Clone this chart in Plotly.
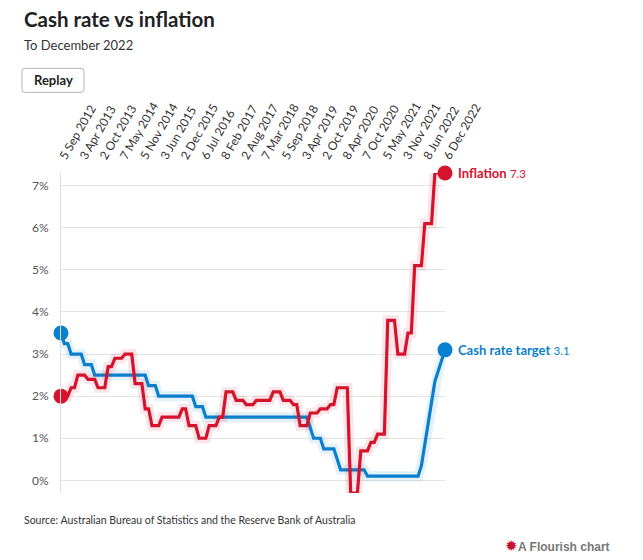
import plotly.graph_objects as go

# ---------------- data ----------------
meeting_dates = [
    "5 Sep 2012", "3 Oct 2012", "7 Nov 2012", "5 Dec 2012",
    "6 Feb 2013", "6 Mar 2013", "3 Apr 2013", "8 May 2013", "5 Jun 2013", "3 Jul 2013", "7 Aug 2013", "4 Sep 2013", "2 Oct 2013", "6 Nov 2013", "4 Dec 2013",
    "5 Feb 2014", "5 Mar 2014", "2 Apr 2014", "7 May 2014", "4 Jun 2014", "2 Jul 2014", "6 Aug 2014", "3 Sep 2014", "8 Oct 2014", "5 Nov 2014", "3 Dec 2014",
    "4 Feb 2015", "4 Mar 2015", "8 Apr 2015", "6 May 2015", "3 Jun 2015", "8 Jul 2015", "5 Aug 2015", "2 Sep 2015", "7 Oct 2015", "4 Nov 2015", "2 Dec 2015",
    "3 Feb 2016", "2 Mar 2016", "6 Apr 2016", "4 May 2016", "8 Jun 2016", "6 Jul 2016", "3 Aug 2016", "7 Sep 2016", "5 Oct 2016", "2 Nov 2016", "7 Dec 2016",
    "8 Feb 2017", "8 Mar 2017", "5 Apr 2017", "3 May 2017", "7 Jun 2017", "5 Jul 2017", "2 Aug 2017", "6 Sep 2017", "4 Oct 2017", "8 Nov 2017", "6 Dec 2017",
    "7 Feb 2018", "7 Mar 2018", "4 Apr 2018", "2 May 2018", "6 Jun 2018", "4 Jul 2018", "8 Aug 2018", "5 Sep 2018", "3 Oct 2018", "7 Nov 2018", "5 Dec 2018",
    "6 Feb 2019", "6 Mar 2019", "3 Apr 2019", "8 May 2019", "5 Jun 2019", "3 Jul 2019", "7 Aug 2019", "4 Sep 2019", "2 Oct 2019", "6 Nov 2019", "4 Dec 2019",
    "5 Feb 2020", "4 Mar 2020", "20 Mar 2020", "8 Apr 2020", "6 May 2020", "3 Jun 2020", "8 Jul 2020", "5 Aug 2020", "2 Sep 2020", "7 Oct 2020", "4 Nov 2020", "2 Dec 2020",
    "3 Feb 2021", "3 Mar 2021", "7 Apr 2021", "5 May 2021", "2 Jun 2021", "7 Jul 2021", "4 Aug 2021", "8 Sep 2021", "6 Oct 2021", "3 Nov 2021", "8 Dec 2021",
    "2 Feb 2022", "2 Mar 2022", "6 Apr 2022", "4 May 2022", "8 Jun 2022", "6 Jul 2022", "3 Aug 2022", "7 Sep 2022", "5 Oct 2022", "2 Nov 2022", "6 Dec 2022",
]

cash_rate = [
    3.50, 3.25, 3.25, 3.00,
    3.00, 3.00, 3.00, 2.75, 2.75, 2.75, 2.50, 2.50, 2.50, 2.50, 2.50,
    2.50, 2.50, 2.50, 2.50, 2.50, 2.50, 2.50, 2.50, 2.50, 2.50, 2.50,
    2.25, 2.25, 2.25, 2.00, 2.00, 2.00, 2.00, 2.00, 2.00, 2.00, 2.00,
    2.00, 2.00, 2.00, 1.75, 1.75, 1.75, 1.50, 1.50, 1.50, 1.50, 1.50,
    1.50, 1.50, 1.50, 1.50, 1.50, 1.50, 1.50, 1.50, 1.50, 1.50, 1.50,
    1.50, 1.50, 1.50, 1.50, 1.50, 1.50, 1.50, 1.50, 1.50, 1.50, 1.50,
    1.50, 1.50, 1.50, 1.50, 1.25, 1.00, 1.00, 1.00, 0.75, 0.75, 0.75,
    0.75, 0.50, 0.25, 0.25, 0.25, 0.25, 0.25, 0.25, 0.25, 0.25, 0.10, 0.10,
    0.10, 0.10, 0.10, 0.10, 0.10, 0.10, 0.10, 0.10, 0.10, 0.10, 0.10,
    0.10, 0.10, 0.10, 0.35, 0.85, 1.35, 1.85, 2.35, 2.60, 2.85, 3.10,
]

inflation = [
    2.0, 2.0, 2.0, 2.2,
    2.2, 2.5, 2.5, 2.5, 2.4, 2.4, 2.4, 2.2, 2.2, 2.2, 2.7,
    2.7, 2.9, 2.9, 2.9, 3.0, 3.0, 3.0, 2.3, 2.3, 2.3, 1.7,
    1.7, 1.3, 1.3, 1.3, 1.5, 1.5, 1.5, 1.5, 1.5, 1.5, 1.7,
    1.7, 1.3, 1.3, 1.3, 1.0, 1.0, 1.0, 1.3, 1.3, 1.3, 1.5,
    1.5, 2.1, 2.1, 2.1, 1.9, 1.9, 1.9, 1.8, 1.8, 1.8, 1.9,
    1.9, 1.9, 1.9, 1.9, 2.1, 2.1, 2.1, 1.9, 1.9, 1.9, 1.8,
    1.8, 1.3, 1.3, 1.3, 1.6, 1.6, 1.6, 1.7, 1.7, 1.7, 1.8,
    1.8, 2.2, 2.2, 2.2, 2.2, -0.3, -0.3, -0.3, 0.7, 0.7, 0.7, 0.9,
    0.9, 1.1, 1.1, 1.1, 3.8, 3.8, 3.8, 3.0, 3.0, 3.0, 3.5,
    3.5, 5.1, 5.1, 5.1, 6.1, 6.1, 6.1, 7.3, 7.3, 7.3, 7.3,
]

tick_labels = [
    "5 Sep 2012", "3 Apr 2013", "2 Oct 2013", "7 May 2014", "5 Nov 2014",
    "3 Jun 2015", "2 Dec 2015", "6 Jul 2016", "8 Feb 2017", "2 Aug 2017",
    "7 Mar 2018", "5 Sep 2018", "3 Apr 2019", "2 Oct 2019", "8 Apr 2020",
    "7 Oct 2020", "5 May 2021", "3 Nov 2021", "8 Jun 2022", "6 Dec 2022",
]
y_ticks = [0, 1, 2, 3, 4, 5, 6, 7]

series_names = ["Inflation", "Cash rate target"]

# ---------------- styling ----------------
FONT = "Lato"
RED = "#d6132c"
BLUE = "#0a7fcd"
RED_HALO = "rgba(214,19,44,0.11)"
BLUE_HALO = "rgba(10,127,205,0.11)"

OFF = 8  # page body margin offset
W, H = 643, 560
L, R, T, B = 61 - OFF, 445 - OFF, 173.4 - OFF, 492.6 - OFF


def px_x(px):
    return (px - OFF - L) / (R - L)


def px_y(py):
    return (B - (py - OFF)) / (B - T)


fig = go.Figure()

for vals, col, halo in [(cash_rate, BLUE, BLUE_HALO), (inflation, RED, RED_HALO)]:
    fig.add_trace(go.Scatter(
        x=meeting_dates, y=vals, mode="lines",
        line=dict(color=halo, width=10), hoverinfo="skip",
        showlegend=False, cliponaxis=False,
    ))
    fig.add_trace(go.Scatter(
        x=meeting_dates, y=vals, mode="lines",
        line=dict(color=col, width=3.2), showlegend=False, cliponaxis=False,
    ))
    fig.add_trace(go.Scatter(
        x=[meeting_dates[0], meeting_dates[-1]], y=[vals[0], vals[-1]],
        mode="markers", marker=dict(color=col, size=15, line=dict(width=0)),
        showlegend=False, cliponaxis=False, hoverinfo="skip",
    ))

annotations = []
for name, vals, col in [(series_names[0], inflation, RED), (series_names[1], cash_rate, BLUE)]:
    annotations.append(dict(
        x=meeting_dates[-1], y=vals[-1], xref="x", yref="y",
        text=f"<b>{name}</b> <span style='font-size:11.5px'>{vals[-1]:.1f}</span>",
        showarrow=False, xanchor="left", yanchor="middle", xshift=11, yshift=0,
        font=dict(family=FONT, size=13, color=col),
    ))

annotations += [
    dict(x=px_x(22), y=px_y(20), xref="paper", yref="paper",
         text="<b>Cash rate vs inflation</b>", showarrow=False,
         xanchor="left", yanchor="middle",
         font=dict(family=FONT, size=20.5, color="#222222")),
    dict(x=px_x(22), y=px_y(46), xref="paper", yref="paper",
         text="To December 2022", showarrow=False,
         xanchor="left", yanchor="middle",
         font=dict(family=FONT, size=13, color="#333333")),
    dict(x=px_x(53), y=px_y(81), xref="paper", yref="paper",
         text="<b>Replay</b>", showarrow=False,
         xanchor="center", yanchor="middle",
         font=dict(family=FONT, size=13, color="#222222")),
    dict(x=px_x(22), y=px_y(520), xref="paper", yref="paper",
         text="Source: Australian Bureau of Statistics and the Reserve Bank of Australia",
         showarrow=False, xanchor="left", yanchor="middle",
         font=dict(family=FONT, size=10.5, color="#333333")),
    dict(x=px_x(612), y=px_y(545), xref="paper", yref="paper",
         text="<span style='color:#c8102e;font-size:15px'>✹</span><b>A Flourish chart</b>",
         showarrow=False, xanchor="right", yanchor="middle",
         font=dict(family="Liberation Sans", size=12, color="#777777")),
]

# rounded replay button outline
bx0, bx1, by0, by1, rr = 22, 84, 69, 93, 3
path = (f"M {px_x(bx0 + rr)},{px_y(by0)} L {px_x(bx1 - rr)},{px_y(by0)} "
        f"Q {px_x(bx1)},{px_y(by0)} {px_x(bx1)},{px_y(by0 + rr)} "
        f"L {px_x(bx1)},{px_y(by1 - rr)} Q {px_x(bx1)},{px_y(by1)} {px_x(bx1 - rr)},{px_y(by1)} "
        f"L {px_x(bx0 + rr)},{px_y(by1)} Q {px_x(bx0)},{px_y(by1)} {px_x(bx0)},{px_y(by1 - rr)} "
        f"L {px_x(bx0)},{px_y(by0 + rr)} Q {px_x(bx0)},{px_y(by0)} {px_x(bx0 + rr)},{px_y(by0)} Z")

fig.update_layout(
    width=W, height=H, autosize=False,
    margin=dict(l=L, r=W - R, t=T, b=H - B, pad=0),
    paper_bgcolor="white", plot_bgcolor="white",
    font=dict(family=FONT, size=12, color="#333333"),
    showlegend=False,
    annotations=annotations,
    shapes=[dict(type="path", path=path, xref="paper", yref="paper",
                 line=dict(color="#b5b5b5", width=1), fillcolor="rgba(0,0,0,0)")],
    xaxis=dict(
        type="category", categoryorder="array", categoryarray=meeting_dates,
        range=[0, len(meeting_dates) - 1],
        side="top", tickmode="array", tickvals=tick_labels, ticktext=tick_labels,
        tickangle=-60, showgrid=False, zeroline=False, showline=False,
        ticks="", ticklabelstandoff=6,
        tickfont=dict(family=FONT, size=12, color="#333333"),
    ),
    yaxis=dict(
        range=[-0.3, 7.3], tickmode="array", tickvals=y_ticks,
        ticktext=[f"{v}%" for v in y_ticks],
        showgrid=True, gridcolor="#e4e4e4", gridwidth=1,
        zeroline=False, showline=True, linecolor="#dddddd", linewidth=1,
        ticks="", ticklabelstandoff=9,
        tickfont=dict(family=FONT, size=12, color="#555555"),
    ),
)

fig.write_html("out.html")
